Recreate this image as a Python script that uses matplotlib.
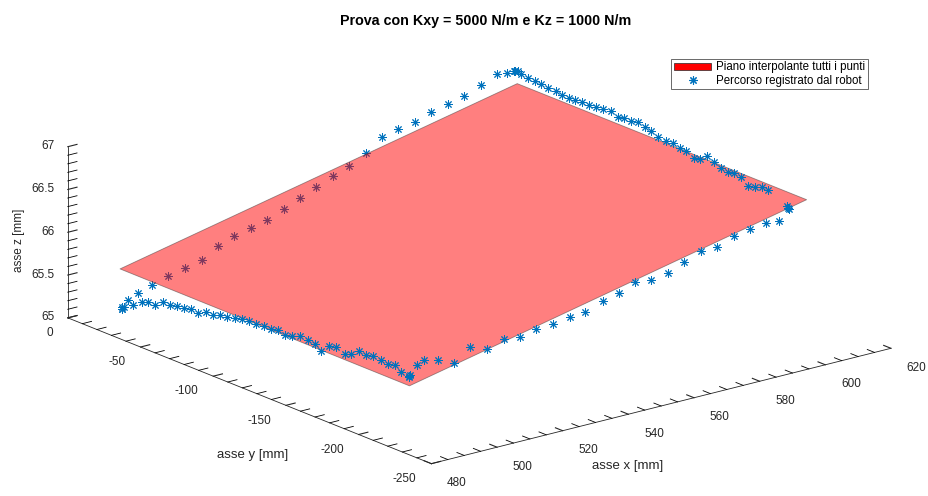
import numpy as np
import matplotlib
matplotlib.use("Agg")
import matplotlib.pyplot as plt
from matplotlib.patches import Patch
from matplotlib.lines import Line2D
from matplotlib.ticker import MultipleLocator, FormatStrFormatter

plt.rcParams['font.family'] = ['Liberation Sans', 'DejaVu Sans']
plt.rcParams['axes.unicode_minus'] = False

# percorso registrato dal robot, diviso nei quattro tratti
tratto1_x = [490.8, 490.5, 491.0, 492.6, 495.6, 499.8, 504.8, 509.9, 515.0, 520.0, 524.9, 529.9, 534.9,
             540.0, 545.1, 550.0, 554.9, 559.8, 565.1, 570.0, 574.9, 580.0, 584.8, 590.0, 595.0,
             600.1, 604.9, 608.0, 610.3, 610.8]
tratto1_y = [-13.0, -13.5, -14.0, -13.0, -13.0, -13.0, -13.0, -13.0, -13.0, -13.0, -13.0, -13.0, -13.0,
             -13.0, -13.0, -13.0, -13.0, -13.0, -13.0, -13.0, -13.0, -13.0, -13.0, -13.0, -13.0,
             -13.0, -13.0, -13.0, -13.0, -12.5]
tratto1_z = [65.11, 65.10, 65.12, 65.18, 65.23, 65.28, 65.34, 65.38, 65.43, 65.54, 65.61, 65.66, 65.70,
             65.78, 65.86, 65.94, 66.03, 66.10, 66.19, 66.34, 66.38, 66.42, 66.48, 66.53, 66.57,
             66.65, 66.73, 66.72, 66.72, 66.71]

tratto2_y = [-9.3, -11.7, -13.9, -18.5, -23.1, -27.7, -32.3, -37.5, -42.1, -46.4, -51.0, -55.6, -60.6,
             -65.5, -70.1, -75.3, -80.4, -84.5, -89.0, -94.1, -99.1, -103.2, -108.2, -113.5, -118.1,
             -122.7, -127.3, -132.6, -137.1, -141.5, -146.3, -151.3, -155.9, -160.4, -165.0, -170.1,
             -174.7, -179.5, -183.8, -197.1, -196.5, -197.8]
tratto2_x = [612.0] * len(tratto2_y)
tratto2_z = [66.68, 66.69, 66.67, 66.66, 66.65, 66.65, 66.64, 66.64, 66.62, 66.61, 66.62, 66.63, 66.63,
             66.64, 66.65, 66.66, 66.62, 66.64, 66.63, 66.66, 66.64, 66.62, 66.58, 66.57, 66.58,
             66.55, 66.55, 66.50, 66.52, 66.58, 66.55, 66.51, 66.50, 66.51, 66.50, 66.43,
             66.45, 66.48, 66.48, 66.36, 66.37, 66.35]

tratto3_x = [602.3, 598.2, 593.4, 588.5, 583.4, 578.5, 573.2, 568.4, 563.3, 558.4, 553.5, 548.6,
             543.2, 538.6, 533.3, 528.4, 523.5, 518.5, 513.4, 508.2, 503.4, 498.3, 494.2, 492.0]
tratto3_y = [-213.0] * len(tratto3_x)
tratto3_z = [66.41, 66.42, 66.40, 66.36, 66.28, 66.29, 66.21, 66.12, 66.09, 66.12, 66.03, 65.99,
             65.91, 65.90, 65.87, 65.85, 65.81, 65.83, 65.77, 65.84, 65.70, 65.78, 65.82, 65.79]

tratto4_y = [-213.5, -213.0, -214.0, -207.8, -203.2, -198.6, -193.6, -188.3, -183.3, -178.7, -173.5,
             -168.9, -163.2, -158.1, -152.9, -148.3, -143.7, -138.0, -132.5, -127.7, -123.1, -118.5,
             -113.3, -108.2, -103.3, -98.1, -93.3, -88.2, -83.0, -78.4, -73.4, -68.1, -63.1, -58.3,
             -53.5, -48.7, -43.7, -38.4, -33.8, -29.3, -23.5, -15.5]
tratto4_x = [489.5] * len(tratto4_y)
tratto4_z = [65.69, 65.67, 65.70, 65.69, 65.74, 65.72, 65.74, 65.75, 65.72, 65.74, 65.67,
             65.64, 65.68, 65.66, 65.56, 65.61, 65.63, 65.64, 65.60, 65.58, 65.60, 65.59,
             65.58, 65.57, 65.57, 65.56, 65.54, 65.52, 65.51, 65.48, 65.48, 65.43, 65.44, 65.42,
             65.41, 65.39, 65.39, 65.32, 65.32, 65.29, 65.22, 65.12]

# piano interpolante (angoli)
piano_x = [490.0, 611.0]
piano_y = [-212.0, -13.0]
piano_z = [[65.56, 66.57],
           [65.57, 66.57]]

x = np.array(tratto1_x + tratto2_x + tratto3_x + tratto4_x)
y = np.array(tratto1_y + tratto2_y + tratto3_y + tratto4_y)
z = np.array(tratto1_z + tratto2_z + tratto3_z + tratto4_z)

# quota del piano nei punti -> punti nascosti sotto il piano
pz = np.array(piano_z)
tx = (x - piano_x[0]) / (piano_x[1] - piano_x[0])
ty = (y - piano_y[0]) / (piano_y[1] - piano_y[0])
zp = (pz[0, 0] * (1 - tx) * (1 - ty) + pz[0, 1] * tx * (1 - ty)
      + pz[1, 0] * (1 - tx) * ty + pz[1, 1] * tx * ty)
dentro = (tx >= 0) & (tx <= 1) & (ty >= 0) & (ty <= 1)
sotto = dentro & (z < zp)

fig = plt.figure(figsize=(9.29, 4.96), dpi=100)
ax = fig.add_axes([0.0088, -0.0125, 1, 1], projection='3d', proj_type='ortho')
ax.computed_zorder = False
ax.view_init(elev=18.5, azim=-128.35)
ax.set_box_aspect((1, 1, 0.308), zoom=1.66)

blu = '#0072BD'
star = (8, 2, 0)
sc1 = ax.scatter(x[sotto], y[sotto], z[sotto], marker=star, s=30, c=blu, linewidths=0.7,
                 depthshade=False, zorder=1)
X, Y = np.meshgrid(piano_x, piano_y)
surf = ax.plot_surface(X, Y, pz, color='red', alpha=0.5, edgecolor='#333333', linewidth=0.6,
                       shade=False, zorder=2)
sc2 = ax.scatter(x[~sotto], y[~sotto], z[~sotto], marker=star, s=30, c=blu, linewidths=0.7,
                 depthshade=False, zorder=3)
for art in (sc1, surf, sc2):
    art.set_clip_on(False)

ax.set_xlim(480, 620)
ax.set_ylim(-250, 0)
ax.set_zlim(65, 67)
ax.xaxis.set_major_locator(MultipleLocator(20))
ax.yaxis.set_major_locator(MultipleLocator(50))
ax.zaxis.set_major_locator(MultipleLocator(0.5))
ax.xaxis.set_minor_locator(MultipleLocator(5))
ax.yaxis.set_minor_locator(MultipleLocator(10))
ax.zaxis.set_minor_locator(MultipleLocator(0.1))
ax.zaxis.set_major_formatter(FormatStrFormatter('%g'))

for a in (ax.xaxis, ax.yaxis, ax.zaxis):
    a.set_pane_color((1, 1, 1, 0))
    a.line.set_color('#262626')
    a.line.set_linewidth(0.6)
    a._axinfo['grid']['linewidth'] = 0
    a._axinfo['tick']['color'] = '#262626'
    a._axinfo['tick']['inward_factor'] = 0.0
    a._axinfo['tick']['outward_factor'] = 0.25
ax.grid(False)
ax.tick_params(labelsize=8.5, colors='#262626')
ax.xaxis.set_tick_params(pad=0)
ax.yaxis.set_tick_params(pad=-2)
ax.zaxis.set_tick_params(pad=-5)
for t in ax.xaxis.get_major_ticks():
    t.label1.set_horizontalalignment('left')
for t in ax.yaxis.get_major_ticks():
    t.label1.set_horizontalalignment('right')
for t in ax.zaxis.get_major_ticks():
    t.label1.set_horizontalalignment('right')
    t.label1.set_verticalalignment('center')

fig.text(0.676, 0.06, 'asse x [mm]', fontsize=9.5, color='#262626', ha='center', va='center')
fig.text(0.272, 0.083, 'asse y [mm]', fontsize=9.5, color='#262626', ha='center', va='center')
fig.text(0.02, 0.516, 'asse z [mm]', fontsize=8.5, color='#262626', ha='center', va='center',
         rotation=90)

fig.text(0.523, 0.958, 'Prova con Kxy = 5000 N/m e Kz = 1000 N/m', fontsize=10.3,
         fontweight='bold', ha='center', va='center')

handles = [Patch(facecolor='red', edgecolor='#262626', linewidth=0.5),
           Line2D([], [], linestyle='none', marker=star, markersize=6, color=blu,
                  markeredgewidth=0.8)]
leg = fig.legend(handles, ['Piano interpolante tutti i punti', 'Percorso registrato dal robot'],
                 loc='upper right', bbox_to_anchor=(0.934, 0.882), fontsize=8.3,
                 frameon=True, fancybox=False, edgecolor='#262626', borderpad=0.25,
                 labelspacing=0.1, handlelength=3.2, handleheight=0.6,
                 handletextpad=0.4, borderaxespad=0)
leg.get_frame().set_linewidth(0.6)

fig.savefig('out.png', dpi=100, facecolor='white')
